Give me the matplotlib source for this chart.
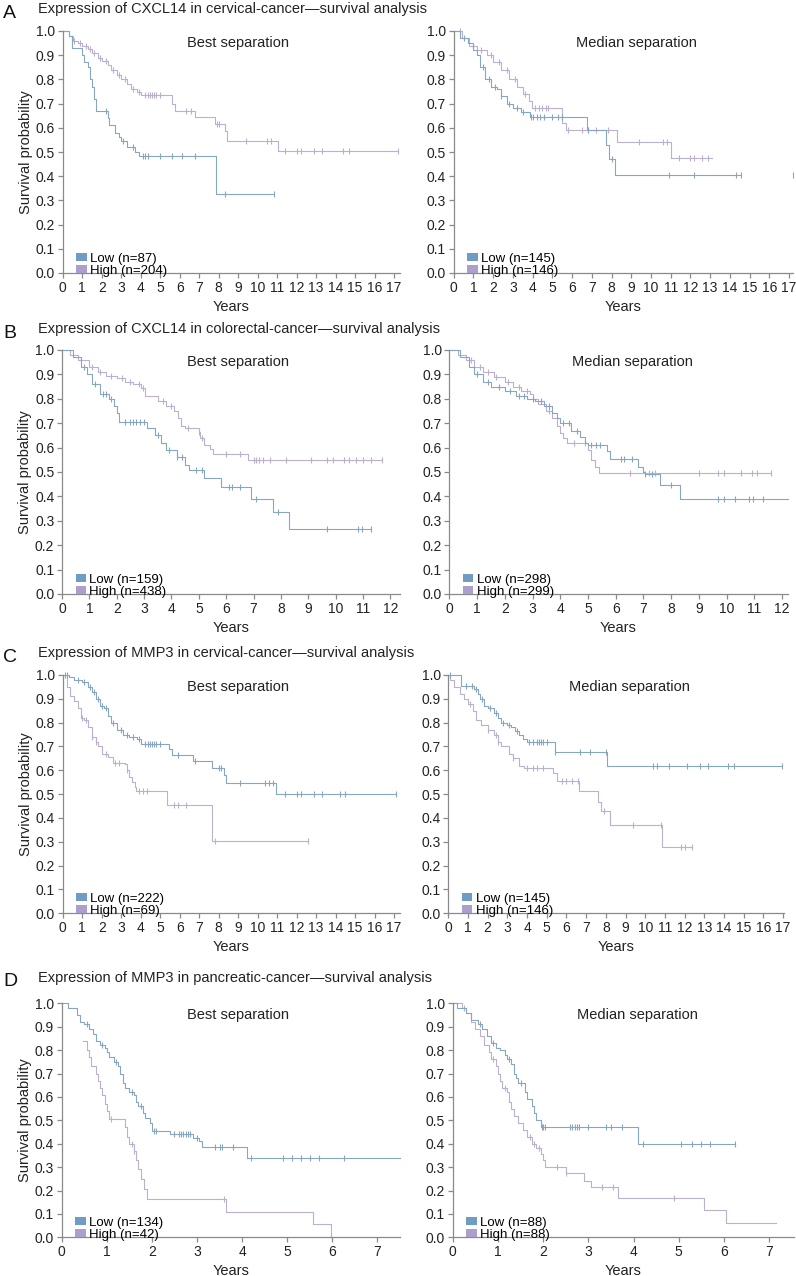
import numpy as np
import matplotlib
matplotlib.use("Agg")
import matplotlib.pyplot as plt
from matplotlib.patches import Patch

plt.rcParams['font.family'] = ['Liberation Sans', 'DejaVu Sans']

LOW_COLOR = '#6f9cc2'
HIGH_COLOR = '#ad9fcc'
LOW_LINE = '#86a6c2'
HIGH_LINE = '#bbb0d0'
AXIS_GRAY = '#8a8a8a'

# ---- Panel A, CXCL14 cervical cancer ----
a_best_low_t = [0, 0.3, 0.5, 1.0, 1.1, 1.3, 1.4, 1.5, 1.6, 1.7, 2.3, 2.4, 2.7, 2.9, 3.0, 3.3, 3.7, 3.9, 7.85]
a_best_low_s = [1.0, 0.98, 0.93, 0.90, 0.87, 0.85, 0.80, 0.77, 0.72, 0.67, 0.64, 0.61, 0.58, 0.56, 0.545, 0.52, 0.50, 0.485, 0.325]
a_best_low_end = 10.85
a_best_low_cens = [2.2, 3.1, 3.6, 4.1, 4.2, 4.35, 5.0, 5.6, 6.1, 6.8, 8.3, 10.85]
a_best_high_t = [0, 0.3, 0.55, 0.8, 1.0, 1.3, 1.5, 1.8, 2.0, 2.3, 2.5, 2.8, 3.0, 3.3, 3.5, 3.8, 4.0, 5.6, 5.75, 6.8, 7.8, 8.3, 8.45, 11.05]
a_best_high_s = [1.0, 0.98, 0.96, 0.95, 0.94, 0.925, 0.91, 0.89, 0.875, 0.86, 0.84, 0.82, 0.80, 0.78, 0.76, 0.75, 0.735, 0.70, 0.67, 0.645, 0.615, 0.585, 0.545, 0.505]
a_best_high_end = 17.2
a_best_high_cens = [0.6, 0.9, 1.2, 1.4, 1.6, 1.9, 2.2, 2.6, 2.9, 3.2, 3.6, 3.9, 4.2, 4.4, 4.5, 4.6, 4.7, 4.8, 5.0, 6.3, 6.6, 7.9, 8.0, 9.4, 10.5, 10.7,
                    11.4, 12.0, 12.2, 12.9, 13.3, 14.4, 14.7, 17.2]

a_med_low_t = [0, 0.3, 0.7, 1.0, 1.2, 1.35, 1.6, 1.9, 2.2, 2.4, 2.7, 3.0, 3.4, 3.85, 6.75, 7.7, 7.85, 8.2]
a_med_low_s = [1.0, 0.97, 0.95, 0.92, 0.90, 0.85, 0.80, 0.77, 0.76, 0.73, 0.70, 0.68, 0.665, 0.645, 0.59, 0.53, 0.47, 0.405]
a_med_low_end = 14.55
a_med_low_cens = [0.5, 1.5, 1.8, 2.1, 2.4, 2.8, 3.2, 3.5, 3.9, 4.0, 4.2, 4.4, 4.6, 5.0, 5.3, 5.5, 6.8, 8.0, 10.9, 12.2, 14.3, 14.55, 17.2]
a_med_high_t = [0, 0.4, 0.8, 1.2, 1.7, 2.0, 2.4, 2.8, 3.2, 3.5, 3.8, 3.95, 5.5, 5.7, 8.3, 11.0]
a_med_high_s = [1.0, 0.97, 0.94, 0.92, 0.90, 0.87, 0.84, 0.80, 0.77, 0.74, 0.71, 0.68, 0.62, 0.59, 0.54, 0.475]
a_med_high_end = 13.1
a_med_high_cens = [0.3, 1.0, 1.4, 1.9, 2.3, 2.7, 3.1, 3.6, 4.1, 4.3, 4.5, 4.7, 4.8, 5.8, 6.5, 6.8, 7.2, 7.8, 9.4, 10.6, 10.8,
                   11.4, 12.0, 12.2, 12.6, 12.9]

# ---- Panel B, CXCL14 colorectal cancer ----
b_best_low_t = [0, 0.4, 0.7, 0.9, 1.1, 1.4, 1.7, 1.9, 2.0, 2.1, 3.1, 3.4, 3.6, 3.8, 4.2, 4.5, 4.65, 5.2, 5.8, 6.9, 7.7, 8.3]
b_best_low_s = [1.0, 0.97, 0.93, 0.90, 0.86, 0.82, 0.80, 0.77, 0.74, 0.705, 0.68, 0.65, 0.62, 0.59, 0.56, 0.53, 0.51, 0.475, 0.44, 0.39, 0.335, 0.268]
b_best_low_end = 11.3
b_best_low_cens = [0.8, 1.2, 1.5, 1.6, 1.8, 2.3, 2.5, 2.6, 2.7, 2.85, 3.0, 3.5, 3.9, 4.2, 4.4, 4.9, 5.1, 6.1, 6.2, 6.5, 7.1, 7.9,
                   9.7, 10.8, 10.95, 11.3]
b_best_high_t = [0, 0.3, 0.6, 1.0, 1.3, 1.6, 2.0, 2.3, 2.6, 2.9, 3.05, 3.5, 3.8, 4.1, 4.25, 4.35, 4.5, 5.0, 5.05, 5.2, 5.4, 5.5, 6.8]
b_best_high_s = [1.0, 0.98, 0.96, 0.93, 0.91, 0.895, 0.885, 0.87, 0.86, 0.845, 0.81, 0.79, 0.77, 0.75, 0.72, 0.69, 0.68, 0.665, 0.64, 0.61, 0.595, 0.575, 0.55]
b_best_high_end = 11.7
b_best_high_cens = [0.7, 1.1, 1.4, 1.8, 2.2, 2.5, 2.8, 2.95, 3.7, 4.0, 4.6, 5.0, 5.1, 6.0, 6.5, 7.0, 7.1, 7.2, 7.35, 7.6, 8.2, 9.1,
                    9.7, 9.9, 10.3, 10.5, 10.75, 11.0, 11.3, 11.7]

b_med_low_t = [0, 0.4, 0.7, 0.9, 1.2, 1.5, 2.0, 2.4, 2.8, 3.1, 3.4, 3.7, 3.9, 4.0, 4.4, 4.7, 4.9, 5.0, 5.7, 5.8, 6.8, 7.0, 7.05, 7.6, 8.3]
b_med_low_s = [1.0, 0.97, 0.93, 0.90, 0.87, 0.85, 0.83, 0.81, 0.80, 0.79, 0.77, 0.74, 0.72, 0.70, 0.67, 0.645, 0.62, 0.61, 0.585, 0.555, 0.52, 0.50, 0.49, 0.445, 0.39]
b_med_low_end = 12.2
b_med_low_cens = [1.0, 1.4, 1.8, 2.2, 2.5, 2.7, 3.0, 3.3, 3.6, 4.1, 4.3, 4.6, 5.1, 5.3, 5.45, 6.2, 6.3, 6.6, 7.05, 7.3, 8.0,
                  9.7, 9.9, 10.3, 10.8, 10.95, 11.3]
b_med_high_t = [0, 0.3, 0.6, 0.9, 1.2, 1.6, 2.0, 2.3, 2.6, 2.9, 3.0, 3.2, 3.5, 3.7, 3.9, 4.0, 4.1, 4.25, 5.0, 5.1, 5.25, 5.4]
b_med_high_s = [1.0, 0.98, 0.96, 0.93, 0.91, 0.89, 0.87, 0.85, 0.83, 0.82, 0.80, 0.78, 0.75, 0.72, 0.69, 0.66, 0.64, 0.62, 0.59, 0.55, 0.52, 0.497]
b_med_high_end = 11.6
b_med_high_cens = [0.8, 1.1, 1.4, 1.7, 2.1, 2.5, 2.8, 3.6, 4.5, 4.9, 6.5, 7.2, 7.4, 9.0, 9.7, 9.9, 10.5, 10.9, 11.1, 11.6]

# ---- Panel C, MMP3 cervical cancer ----
c_best_low_t = [0, 0.3, 0.6, 1.0, 1.3, 1.5, 1.7, 1.9, 2.1, 2.3, 2.5, 2.8, 3.1, 3.4, 3.8, 4.0, 5.45, 5.6, 6.7, 7.65, 8.25, 8.4, 10.95]
c_best_low_s = [1.0, 0.99, 0.98, 0.97, 0.95, 0.93, 0.90, 0.87, 0.86, 0.83, 0.80, 0.77, 0.75, 0.74, 0.73, 0.71, 0.69, 0.665, 0.64, 0.61, 0.58, 0.545, 0.50]
c_best_low_end = 17.1
c_best_low_cens = [0.1, 0.2, 0.8, 1.1, 1.4, 1.6, 1.8, 2.0, 2.2, 2.6, 3.0, 3.3, 3.6, 3.9, 4.2, 4.4, 4.5, 4.6, 4.7, 4.8, 5.0, 5.9, 6.8,
                   8.0, 8.1, 9.1, 10.4, 10.6, 10.8, 11.4, 12.0, 12.2, 12.9, 13.3, 14.2, 14.5, 17.1]
c_best_high_t = [0, 0.2, 0.4, 0.6, 0.8, 0.95, 1.1, 1.3, 1.5, 1.7, 1.8, 2.0, 2.3, 2.6, 3.2, 3.3, 3.4, 3.55, 3.7, 3.75, 5.35, 7.65]
c_best_high_s = [1.0, 0.95, 0.91, 0.89, 0.86, 0.82, 0.81, 0.78, 0.74, 0.72, 0.70, 0.67, 0.655, 0.63, 0.625, 0.60, 0.57, 0.55, 0.53, 0.515, 0.455, 0.305]
c_best_high_end = 12.6
c_best_high_cens = [1.0, 1.2, 1.5, 1.7, 2.2, 2.7, 2.9, 3.3, 3.9, 4.1, 4.3, 5.7, 5.9, 6.3, 7.8, 12.6]

c_med_low_t = [0, 0.65, 1.1, 1.3, 1.5, 1.6, 1.8, 2.0, 2.3, 2.5, 2.7, 3.0, 3.2, 3.4, 3.6, 3.8, 3.98, 5.4, 8.05]
c_med_low_s = [1.0, 0.955, 0.955, 0.94, 0.92, 0.90, 0.87, 0.86, 0.84, 0.82, 0.80, 0.79, 0.78, 0.765, 0.75, 0.73, 0.72, 0.675, 0.62]
c_med_low_end = 16.97
c_med_low_cens = [0.1, 0.9, 1.2, 1.4, 1.7, 2.1, 2.4, 2.8, 3.1, 3.5, 4.1, 4.3, 4.5, 4.6, 4.7, 4.8, 5.0, 5.4, 6.7, 7.2, 8.0,
                  10.4, 10.6, 11.2, 12.1, 12.8, 13.2, 14.2, 14.5, 16.97]
c_med_high_t = [0, 0.1, 0.3, 0.6, 0.8, 1.0, 1.25, 1.4, 1.65, 2.0, 2.3, 2.5, 2.7, 3.1, 3.3, 3.6, 3.86, 5.3, 5.5, 6.66, 7.6, 7.75, 8.2, 10.85]
c_med_high_s = [1.0, 0.98, 0.95, 0.92, 0.90, 0.88, 0.85, 0.81, 0.79, 0.77, 0.75, 0.72, 0.70, 0.67, 0.65, 0.62, 0.61, 0.59, 0.555, 0.515, 0.465, 0.43, 0.37, 0.28]
c_med_high_end = 12.4
c_med_high_cens = [1.1, 2.0, 2.4, 2.5, 3.3, 4.0, 4.3, 4.5, 4.8, 5.8, 6.0, 6.3, 6.6, 7.9, 9.4, 10.8, 11.8, 12.0, 12.4]

# ---- Panel D, MMP3 pancreatic cancer ----
d_best_low_t = [0, 0.15, 0.35, 0.4, 0.5, 0.6, 0.7, 0.75, 0.85, 0.95, 1.0, 1.05, 1.15, 1.25, 1.3, 1.35, 1.4, 1.5, 1.6, 1.65, 1.7,
                1.8, 1.85, 1.95, 2.0, 2.4, 2.9, 3.05, 3.1, 4.1]
d_best_low_s = [1.0, 0.98, 0.95, 0.92, 0.91, 0.89, 0.87, 0.84, 0.82, 0.81, 0.79, 0.77, 0.75, 0.73, 0.70, 0.66, 0.64, 0.62, 0.61, 0.58, 0.56,
                0.53, 0.51, 0.49, 0.455, 0.44, 0.425, 0.41, 0.385, 0.34]
d_best_low_end = 7.5
d_best_low_cens = [0.55, 0.9, 1.2, 1.55, 1.75, 2.05, 2.1, 2.5, 2.6, 2.65, 2.7, 2.75, 2.8, 2.85, 3.0, 3.4, 3.5, 3.55, 3.8,
                   4.2, 4.9, 5.1, 5.3, 5.5, 5.7, 6.25]
# visible part of the high curve only starts at the first drop
d_best_high_t = [0.48, 0.55, 0.6, 0.65, 0.75, 0.8, 0.85, 0.9, 0.95, 1.0, 1.05, 1.4, 1.45, 1.5, 1.6, 1.65, 1.7, 1.75, 1.83, 1.9, 3.64, 5.57, 5.97]
d_best_high_s = [0.84, 0.80, 0.77, 0.73, 0.70, 0.67, 0.64, 0.61, 0.57, 0.54, 0.505, 0.47, 0.43, 0.40, 0.37, 0.33, 0.29, 0.25, 0.205, 0.165, 0.11, 0.055, 0.0]
d_best_high_end = 5.97
d_best_high_cens = [1.1, 1.55, 1.6, 3.6]

d_med_low_t = [0, 0.1, 0.3, 0.4, 0.55, 0.65, 0.75, 0.85, 0.95, 1.05, 1.15, 1.2, 1.3, 1.35, 1.4, 1.45, 1.6, 1.65, 1.75, 1.8, 1.85, 1.95, 4.1]
d_med_low_s = [1.0, 0.98, 0.96, 0.93, 0.91, 0.89, 0.86, 0.83, 0.81, 0.80, 0.78, 0.76, 0.74, 0.70, 0.68, 0.66, 0.62, 0.59, 0.56, 0.53, 0.50, 0.47, 0.40]
d_med_low_end = 6.25
d_med_low_cens = [0.6, 0.9, 1.25, 1.5, 1.97, 2.0, 2.05, 2.6, 2.65, 2.7, 2.75, 2.8, 3.0, 3.4, 3.5, 3.75, 4.2, 5.05, 5.3, 5.5, 5.7, 6.25]
d_med_high_t = [0, 0.2, 0.3, 0.4, 0.5, 0.6, 0.7, 0.8, 0.85, 0.95, 1.0, 1.05, 1.1, 1.2, 1.25, 1.3, 1.35, 1.45, 1.55, 1.65, 1.75, 1.85, 1.95,
                2.0, 2.05, 2.5, 2.9, 3.05, 3.65, 5.56, 6.05]
d_med_high_s = [1.0, 0.98, 0.96, 0.92, 0.89, 0.86, 0.82, 0.79, 0.76, 0.73, 0.70, 0.67, 0.64, 0.62, 0.58, 0.55, 0.52, 0.49, 0.46, 0.43, 0.40, 0.38, 0.355,
                0.33, 0.30, 0.275, 0.24, 0.215, 0.17, 0.115, 0.06]
d_med_high_end = 7.15
d_med_high_cens = [0.25, 0.9, 1.15, 1.7, 1.8, 1.9, 2.3, 2.5, 3.3, 3.55, 4.9]

TITLES = ['Expression of CXCL14 in cervical-cancer\u2014survival analysis',
          'Expression of CXCL14 in colorectal-cancer\u2014survival analysis',
          'Expression of MMP3 in cervical-cancer\u2014survival analysis',
          'Expression of MMP3 in pancreatic-cancer\u2014survival analysis']
LETTERS = ['A', 'B', 'C', 'D']
N_LABELS = [[(87, 204), (145, 146)],
            [(159, 438), (298, 299)],
            [(222, 69), (145, 146)],
            [(134, 42), (88, 88)]]

W, H = 796, 1276


def px_axes(fig, x0, x1, ytop, ybot):
    # pixel box -> figure fraction
    return fig.add_axes([x0 / W, 1 - ybot / H, (x1 - x0) / W, (ybot - ytop) / H])


def km(ax, t, s, end, cens, line_color):
    t = list(t)
    s = list(s)
    ax.step(t + [end], s + [s[-1]], where='post', color=line_color, lw=0.8, clip_on=False)
    idx = np.searchsorted(np.array(t), np.array(cens), side='right') - 1
    ys = np.array(s)[idx]
    ax.plot(cens, ys, ls='none', marker='|', ms=4.5, mew=0.8, color=line_color, clip_on=False)


def style(ax, xmax, ylabel):
    ax.set_xlim(0, xmax)
    ax.set_ylim(0, 1.0)
    for sp in ['top', 'right']:
        ax.spines[sp].set_visible(False)
    for sp in ['left', 'bottom']:
        ax.spines[sp].set_color(AXIS_GRAY)
        ax.spines[sp].set_linewidth(0.9)
    ax.set_yticks(np.arange(0, 1.01, 0.1))
    ax.set_yticklabels(['%.1f' % v for v in np.arange(0, 1.01, 0.1)])
    ax.set_xticks(np.arange(0, int(xmax) + 1, 1))
    ax.tick_params(axis='both', direction='out', length=3.5, width=0.9, color=AXIS_GRAY,
                   labelcolor='#222222', pad=2, labelsize=10)
    ax.set_xlabel('Years', fontsize=10.5, color='#222222', labelpad=4)
    if ylabel:
        ax.set_ylabel('Survival probability', fontsize=10.5, color='#222222', labelpad=2)


fig = plt.figure(figsize=(W / 100, H / 100), dpi=100)

# pixel layout for each row: ytop, ybot, title_y, left box, right box, xmax left, xmax right
rows = [
    (31, 273, 9, (62.7, 400), (453.7, 793), 17.3, 17.2),
    (350, 594, 329, (62, 400), (449.3, 787.7), 12.35, 12.2),
    (675, 913.3, 653, (62.7, 400), (448.3, 784), 17.3, 17.05),
    (1003.3, 1237.3, 978, (61.7, 400), (452.7, 794), 7.5, 7.55),
]

curves = [
    [(a_best_low_t, a_best_low_s, a_best_low_end, a_best_low_cens,
      a_best_high_t, a_best_high_s, a_best_high_end, a_best_high_cens),
     (a_med_low_t, a_med_low_s, a_med_low_end, a_med_low_cens,
      a_med_high_t, a_med_high_s, a_med_high_end, a_med_high_cens)],
    [(b_best_low_t, b_best_low_s, b_best_low_end, b_best_low_cens,
      b_best_high_t, b_best_high_s, b_best_high_end, b_best_high_cens),
     (b_med_low_t, b_med_low_s, b_med_low_end, b_med_low_cens,
      b_med_high_t, b_med_high_s, b_med_high_end, b_med_high_cens)],
    [(c_best_low_t, c_best_low_s, c_best_low_end, c_best_low_cens,
      c_best_high_t, c_best_high_s, c_best_high_end, c_best_high_cens),
     (c_med_low_t, c_med_low_s, c_med_low_end, c_med_low_cens,
      c_med_high_t, c_med_high_s, c_med_high_end, c_med_high_cens)],
    [(d_best_low_t, d_best_low_s, d_best_low_end, d_best_low_cens,
      d_best_high_t, d_best_high_s, d_best_high_end, d_best_high_cens),
     (d_med_low_t, d_med_low_s, d_med_low_end, d_med_low_cens,
      d_med_high_t, d_med_high_s, d_med_high_end, d_med_high_cens)],
]

for r, (ytop, ybot, title_y, lbox, rbox, xmax_l, xmax_r) in enumerate(rows):
    fig.text(3 / W, 1 - (title_y + 4) / H, LETTERS[r], fontsize=14, va='center', ha='left', color='#111111')
    fig.text(37.7 / W, 1 - title_y / H, TITLES[r], fontsize=10.5, va='center', ha='left', color='#222222')
    for c, (box, xmax, name) in enumerate([(lbox, xmax_l, 'Best separation'), (rbox, xmax_r, 'Median separation')]):
        ax = px_axes(fig, box[0], box[1], ytop, ybot)
        lt, ls_, le, lc, ht, hs, he, hc = curves[r][c]
        km(ax, ht, hs, he, hc, HIGH_LINE)
        km(ax, lt, ls_, le, lc, LOW_LINE)
        style(ax, xmax, c == 0)
        ax.text(0.52 if c == 0 else 0.54, 0.95, name, transform=ax.transAxes, ha='center', va='center',
                fontsize=10.5, color='#222222')
        n_low, n_high = N_LABELS[r][c]
        handles = [Patch(facecolor=LOW_COLOR, edgecolor='none', label='Low (n=%d)' % n_low),
                   Patch(facecolor=HIGH_COLOR, edgecolor='none', label='High (n=%d)' % n_high)]
        ax.legend(handles=handles, loc='lower left', bbox_to_anchor=(0.04, -0.015), frameon=False,
                  fontsize=9.5, handlelength=0.8, handleheight=0.6, handletextpad=0.25,
                  labelspacing=0.0, borderpad=0, borderaxespad=0)

fig.savefig('out.png', dpi=100)
